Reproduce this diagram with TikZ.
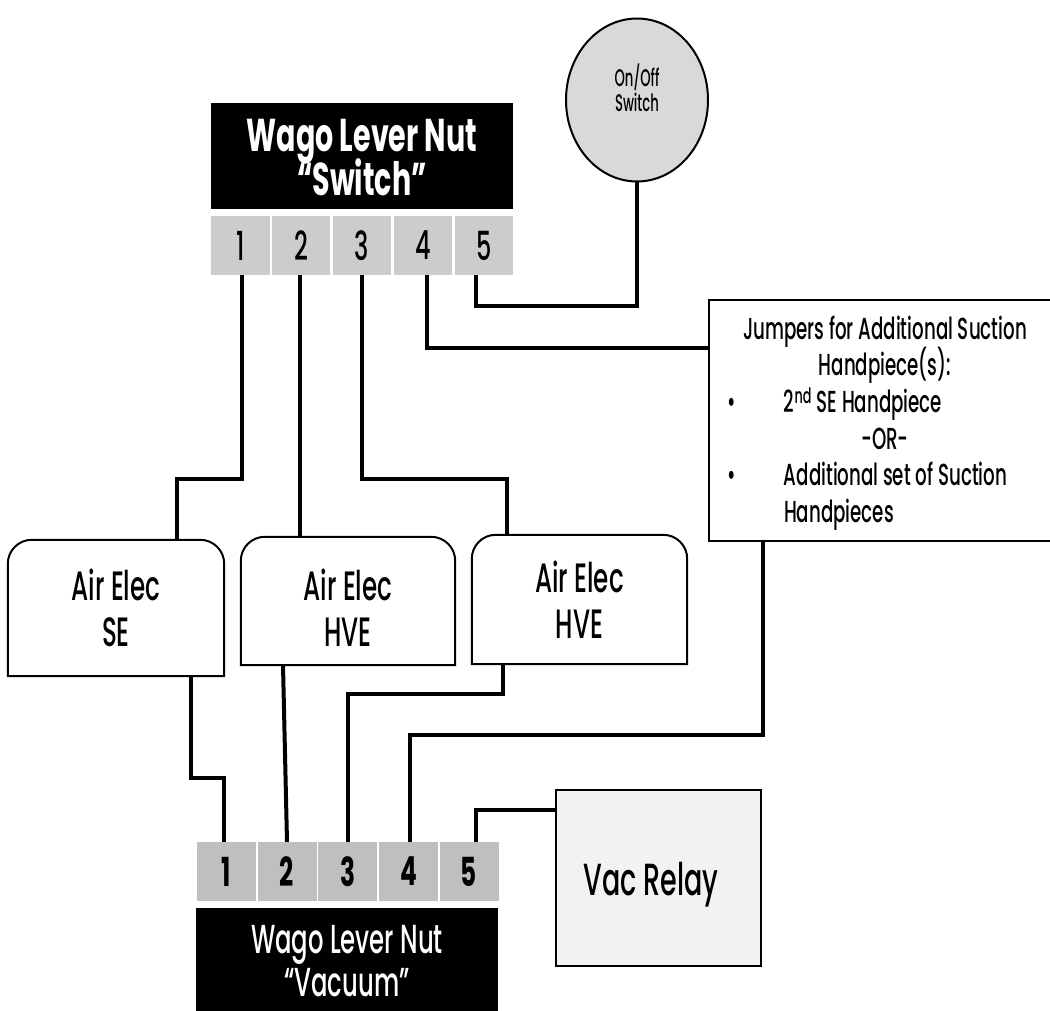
\documentclass[tikz,border=0pt]{standalone}
\usepackage{fontspec}
\setmainfont{Poppins}[FakeStretch=0.6,UprightFont=* Medium,BoldFont=* Bold]
\newfontfamily\boldf{Poppins}[FakeStretch=0.62,UprightFont=* Bold,BoldFont=* Bold]
\newfontfamily\narrowf{Poppins}[FakeStretch=0.55,UprightFont=* Medium,BoldFont=* Bold]
\usetikzlibrary{shapes.geometric}
\lineskiplimit=-100pt
\newcommand{\fullline}[1]{\makebox[326pt][c]{#1}}
\newcommand{\bulletline}[2]{\makebox[62pt][l]{\hspace{5pt}#1}\makebox[264pt][l]{#2}}
\tikzset{
  x=1pt,y=-1pt,
  wire/.style={draw=black,line width=4pt,line cap=butt,line join=miter},
  cellbox/.style={fill=#1,draw=none,inner sep=0pt,minimum height=59pt,font=\fontsize{40}{44}\selectfont},
  topcell/.style={cellbox=cellA,minimum width=58.5pt},
  botcell/.style={cellbox=cellB,minimum width=59pt,font=\boldf\fontsize{40}{44}\selectfont},
  blackbox/.style={fill=black,inner sep=0pt},
  whitetext/.style={text=white,inner sep=0pt,align=center},
  airbox/.style={inner sep=0pt,align=center,font=\fontsize{41}{46}\selectfont},
  plainbox/.style={draw=black,line width=2.2pt,inner sep=0pt},
  boxtext/.style={inner sep=0pt,align=center},
}
\definecolor{cellA}{HTML}{CCCCCC}
\definecolor{cellB}{HTML}{BFBFBF}
\definecolor{relayfill}{HTML}{F2F2F2}
\definecolor{switchfill}{HTML}{D9D9D9}
\begin{document}
\begin{tikzpicture}
\useasboundingbox (0,0) rectangle (1050,1011);
% top connector
\node[blackbox,minimum width=302pt,minimum height=106pt] (wagoS) at (362,156) {};
\node[whitetext,font=\boldf\fontsize{46}{44}\selectfont] (wagoStext) at (362,158) {Wago Lever Nut\\“Switch”};
\node[topcell] (s1) at (240.5,245.5) {1};
\node[topcell] (s2) at (301,245.5) {2};
\node[topcell] (s3) at (362,245.5) {3};
\node[topcell] (s4) at (423,245.5) {4};
\node[topcell] (s5) at (484,245.5) {5};
% bottom connector
\node[blackbox,minimum width=302pt,minimum height=103pt] (wagoV) at (347,959.5) {};
\node[whitetext,font=\fontsize{40.5}{43}\selectfont] (wagoVtext) at (347,961.5) {Wago Lever Nut\\“Vacuum”};
\node[botcell] (v1) at (226,871.5) {1};
\node[botcell] (v2) at (287,871.5) {2};
\node[botcell] (v3) at (347.5,871.5) {3};
\node[botcell] (v4) at (408.5,871.5) {4};
\node[botcell] (v5) at (469,871.5) {5};
% switch
\node[draw=black,line width=2pt,fill=switchfill,ellipse,minimum width=142pt,minimum height=163pt,inner sep=0pt] (sw) at (637,100) {};
\node[boxtext,font=\narrowf\fontsize{24}{25}\selectfont] (swtext) at (637,88) {On/Off\\Switch};
% jumpers
\node[plainbox,fill=white,minimum width=352pt,minimum height=241pt] (jump) at (885,420.5) {};
\node[boxtext,align=left,font=\fontsize{30.4}{36.6}\selectfont] (jumptext) at (885,423) {\fullline{Jumpers for Additional Suction}\\
\fullline{Handpiece(s):}\\
\bulletline{•}{2\textsuperscript{nd} SE Handpiece}\\
\fullline{-OR-}\\
\bulletline{•}{Additional set of Suction}\\
\bulletline{}{Handpieces}};
% air boxes
\node[airbox,minimum width=216pt,minimum height=136pt] (a1) at (116,608) {Air Elec\\SE};
\node[airbox,minimum width=214pt,minimum height=128pt] (a2) at (348,601) {};
\node[airbox] (a2text) at (348,608) {Air Elec\\HVE};
\node[airbox,minimum width=215pt,minimum height=129pt] (a3) at (579.5,599.5) {Air Elec\\HVE};
\foreach \n in {a1,a2,a3}
  \draw[line width=2pt,rounded corners=24pt] (\n.south west) [sharp corners] -- (\n.south west) [rounded corners=24pt] -- (\n.north west) -- (\n.north east) [sharp corners] -- (\n.south east) -- cycle;
% relay
\node[plainbox,fill=relayfill,minimum width=205pt,minimum height=176pt] (relay) at (658.5,878) {};
\node[boxtext,font=\fontsize{45}{46}\selectfont] (relaytext) at (651,885) {Vac Relay};
% wires
\draw[wire] ([xshift=1.5pt]s1.south) |- (177,479) -- ([xshift=61pt]a1.north);
\draw[wire] ([xshift=-1pt]s2.south) -- ([xshift=-48pt]a2.north);
\draw[wire] (s3.south) |- (507,479) -- ([xshift=-72.5pt]a3.north);
\draw[wire] ([xshift=4pt]s4.south) |- (jump.west |- 0,348);
\draw[wire] ([xshift=-8pt]s5.south) |- (637,306) -- (sw.south);
\draw[wire] ([xshift=75pt]a1.south) |- (224,778) -- ([xshift=-2pt]v1.north);
\draw[wire] ([xshift=-65pt]a2.south) -- (v2.north);
\draw[wire] ([xshift=-76.5pt]a3.south) |- (348,694) -- ([xshift=.5pt]v3.north);
\draw[wire] (jump.south -| 763,0) |- (410,735) -- ([xshift=1.5pt]v4.north);
\draw[wire] ([xshift=7pt]v5.north) |- (relay.west |- 0,810);
\end{tikzpicture}
\end{document}
